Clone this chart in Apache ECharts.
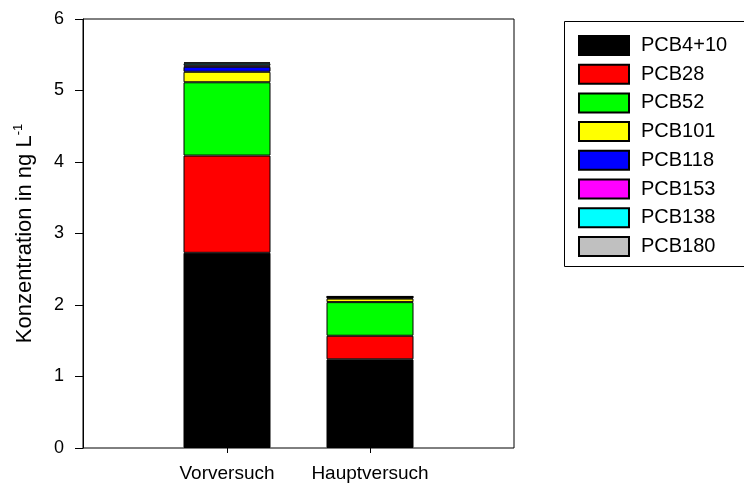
<!DOCTYPE html>
<html>
<head>
<meta charset="utf-8">
<script src="https://cdn.jsdelivr.net/npm/echarts@6/dist/echarts.min.js"></script>
<style>html,body{margin:0;padding:0;background:#fff}#c{width:744px;height:486px}</style>
</head>
<body>
<div id="c"></div>
<script>
var categories = ['Vorversuch', 'Hauptversuch'];
var seriesNames = ['PCB4+10', 'PCB28', 'PCB52', 'PCB101', 'PCB118', 'PCB153', 'PCB138', 'PCB180'];
var pcb4_10 = [2.73, 1.24];
var pcb28 = [1.36, 0.33];
var pcb52 = [1.025, 0.47];
var pcb101 = [0.147, 0.05];
var pcb118 = [0.07, 0.012];
var pcb153 = [0.02, 0.005];
var pcb138 = [0.028, 0.01];
var pcb180 = [0.014, 0.005];
var yTicks = [0, 1, 2, 3, 4, 5, 6];
var colors = ['#000000', '#ff0000', '#00ff00', '#ffff00', '#0000ff', '#ff00ff', '#00ffff', '#c0c0c0'];
var values = [pcb4_10, pcb28, pcb52, pcb101, pcb118, pcb153, pcb138, pcb180];

var font = 'Liberation Sans, Arial, sans-serif';
var chart = echarts.init(document.getElementById('c'), null, {renderer: 'canvas'});

var series = seriesNames.map(function (n, i) {
  return {
    name: n,
    type: 'bar',
    stack: 'total',
    xAxisIndex: 1,
    yAxisIndex: 1,
    barWidth: 87,
    data: values[i],
    itemStyle: {color: colors[i], borderColor: '#000', borderWidth: 1},
    emphasis: {disabled: true}
  };
});

chart.setOption({
  animation: false,
  textStyle: {fontFamily: font},
  grid: [
    {left: 83, right: 230, top: 19, bottom: 38, show: true, borderColor: '#000', borderWidth: 1, backgroundColor: 'transparent'},
    {left: 155.5, right: 302.5, top: 19, bottom: 38}
  ],
  xAxis: [
    {gridIndex: 0, type: 'value', min: 0, max: 1, show: false},
    {gridIndex: 1, type: 'category', data: categories,
     axisLine: {show: false},
     axisTick: {show: true, alignWithLabel: true, length: 5, lineStyle: {color: '#000'}},
     axisLabel: {color: '#000', fontSize: 19, fontFamily: font, margin: 16, interval: 0, hideOverlap: false},
     splitLine: {show: false}}
  ],
  yAxis: [
    {gridIndex: 0, type: 'value', min: yTicks[0], max: yTicks[yTicks.length - 1], interval: 1,
     axisLine: {show: true, lineStyle: {color: '#000'}},
     axisTick: {show: true, length: 8, lineStyle: {color: '#000'}},
     axisLabel: {color: '#000', fontSize: 18, fontFamily: font, margin: 19},
     splitLine: {show: false},
     name: 'Konzentration in ng L{sup|-1}',
     nameLocation: 'middle',
     nameGap: 46,
     nameTextStyle: {color: '#000', fontSize: 22, fontFamily: font,
       rich: {sup: {fontSize: 13, verticalAlign: 'top', padding: [0, 0, 12, 0], color: '#000', fontFamily: font}}}},
    {gridIndex: 1, type: 'value', min: 0, max: 6, interval: 1, show: false}
  ],
  legend: {
    orient: 'vertical',
    left: 578,
    top: 35,
    padding: 0,
    itemWidth: 50,
    itemHeight: 19,
    itemGap: 7.7,
    icon: 'rect',
    selectedMode: false,
    data: seriesNames,
    textStyle: {color: '#000', fontSize: 20, lineHeight: 19, fontFamily: font, padding: [0, 0, 0, 7]}
  },
  graphic: [
    {type: 'rect', left: 562, top: 19, shape: {width: 181, height: 245},
     style: {fill: 'none', stroke: '#000', lineWidth: 1}, silent: true}
  ],
  series: series
});
</script>
</body>
</html>
